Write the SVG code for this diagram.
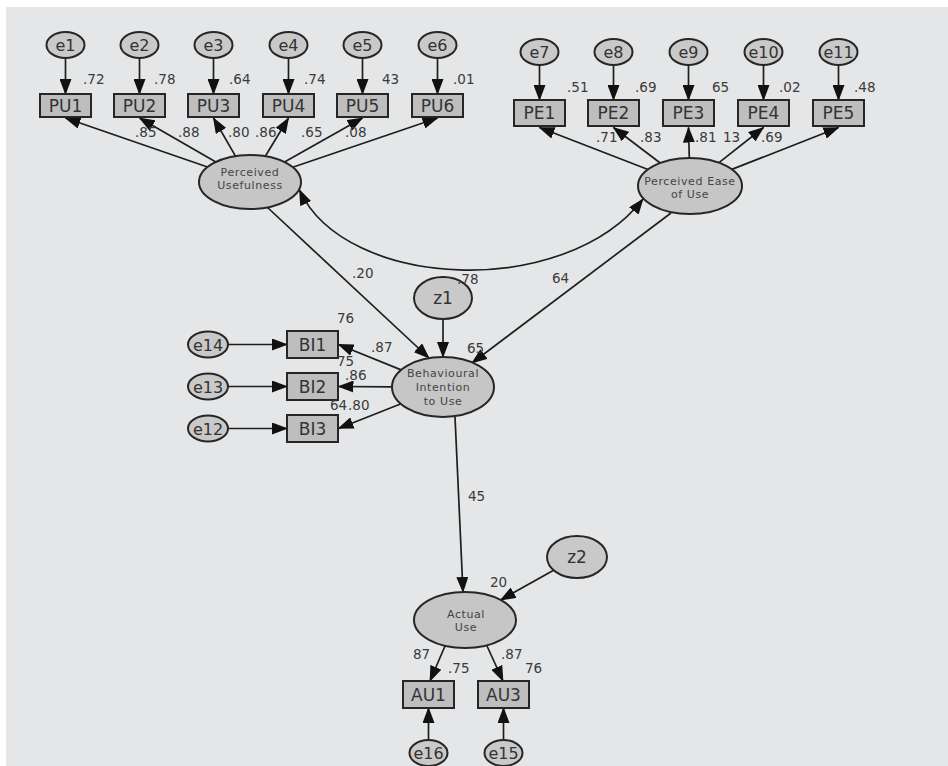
<svg xmlns="http://www.w3.org/2000/svg" width="948" height="766" viewBox="0 0 948 766">
<defs>
<style>
.bg{fill:#e5e6e7}
.lat{fill:#c6c6c6;stroke:#262626;stroke-width:2}
.err{fill:#c9c9c9;stroke:#262626;stroke-width:2}
.box{fill:#bebebe;stroke:#262626;stroke-width:2}
.ln{fill:none;stroke:#1e1e1e;stroke-width:1.7}
.a{marker-end:url(#ah)}
.ab{marker-start:url(#ah);marker-end:url(#ah)}
text{font-family:"DejaVu Sans","Liberation Sans",sans-serif;fill:#333}
.tl{font-size:17px;text-anchor:middle}
.te{font-size:16px;text-anchor:middle}
.tz{font-size:17px;text-anchor:middle}
.tv{font-size:11px;letter-spacing:0.6px;text-anchor:middle;fill:#444}
.n{font-size:13.5px;fill:#3a3a3a}
</style>
<marker id="ah" markerWidth="16" markerHeight="12" refX="15" refY="6" orient="auto-start-reverse" markerUnits="userSpaceOnUse">
<path d="M0,0 L16,6 L0,12 z" fill="#111"/>
</marker>
</defs>
<rect x="0" y="0" width="948" height="766" fill="#ffffff"/>
<rect class="bg" x="6" y="7" width="942" height="759"/>

<g id="connectors">
<line class="ln a" x1="65.5" y1="58" x2="65.5" y2="94"/>
<line class="ln a" x1="139.5" y1="58" x2="139.5" y2="94"/>
<line class="ln a" x1="213.5" y1="58" x2="213.5" y2="94"/>
<line class="ln a" x1="288.5" y1="58" x2="288.5" y2="94"/>
<line class="ln a" x1="362.5" y1="58" x2="362.5" y2="94"/>
<line class="ln a" x1="437.5" y1="58" x2="437.5" y2="94"/>
<line class="ln a" x1="207.5" y1="167" x2="65.5" y2="118"/>
<line class="ln a" x1="215.9" y1="161.9" x2="139.5" y2="118"/>
<line class="ln a" x1="235.5" y1="156.1" x2="213.5" y2="118"/>
<line class="ln a" x1="265.3" y1="156.2" x2="288.5" y2="118"/>
<line class="ln a" x1="284.5" y1="162.1" x2="362.5" y2="118"/>
<line class="ln a" x1="292.7" y1="167.2" x2="437.5" y2="118"/>
<line class="ln a" x1="539.5" y1="65" x2="539.5" y2="100"/>
<line class="ln a" x1="613.5" y1="65" x2="613.5" y2="100"/>
<line class="ln a" x1="688.5" y1="65" x2="688.5" y2="100"/>
<line class="ln a" x1="763.5" y1="65" x2="763.5" y2="100"/>
<line class="ln a" x1="838.5" y1="65" x2="838.5" y2="100"/>
<line class="ln a" x1="648" y1="169.5" x2="539.5" y2="127.5"/>
<line class="ln a" x1="660.2" y1="163" x2="613.5" y2="127.5"/>
<line class="ln a" x1="689.3" y1="158" x2="688.5" y2="127.5"/>
<line class="ln a" x1="719" y1="162.7" x2="763.5" y2="127.5"/>
<line class="ln a" x1="731.8" y1="169.4" x2="838.5" y2="127.5"/>
<path class="ln ab" d="M299.5,190 C345,290 565,300 643,199"/>
<line class="ln a" x1="267" y1="207" x2="429" y2="358"/>
<line class="ln a" x1="671" y1="213" x2="472" y2="363"/>
<line class="ln a" x1="443" y1="319" x2="443" y2="357"/>
<line class="ln a" x1="228" y1="344.5" x2="287" y2="344.5"/>
<line class="ln a" x1="228" y1="386.5" x2="287" y2="386.5"/>
<line class="ln a" x1="228" y1="428.5" x2="287" y2="428.5"/>
<line class="ln a" x1="401.1" y1="369.9" x2="338.5" y2="344.5"/>
<line class="ln a" x1="392" y1="386.8" x2="338.5" y2="386.5"/>
<line class="ln a" x1="401.1" y1="403.7" x2="338.5" y2="428.5"/>
<line class="ln a" x1="455" y1="417" x2="463" y2="592"/>
<line class="ln a" x1="553.6" y1="570.2" x2="500.6" y2="600"/>
<line class="ln a" x1="445" y1="646" x2="430" y2="681"/>
<line class="ln a" x1="487" y1="646" x2="503" y2="681"/>
<line class="ln a" x1="428.5" y1="740" x2="428.5" y2="708"/>
<line class="ln a" x1="503.5" y1="740" x2="503.5" y2="708"/>
</g>

<g id="e1"><ellipse class="err" cx="65.5" cy="45" rx="19" ry="13"/><text class="te" x="65.5" y="51">e1</text></g>
<g id="e2"><ellipse class="err" cx="139.5" cy="45" rx="19" ry="13"/><text class="te" x="139.5" y="51">e2</text></g>
<g id="e3"><ellipse class="err" cx="213.5" cy="45" rx="19" ry="13"/><text class="te" x="213.5" y="51">e3</text></g>
<g id="e4"><ellipse class="err" cx="288.5" cy="45" rx="19" ry="13"/><text class="te" x="288.5" y="51">e4</text></g>
<g id="e5"><ellipse class="err" cx="362.5" cy="45" rx="19" ry="13"/><text class="te" x="362.5" y="51">e5</text></g>
<g id="e6"><ellipse class="err" cx="437.5" cy="45" rx="19" ry="13"/><text class="te" x="437.5" y="51">e6</text></g>

<g id="PU1"><rect class="box" x="40" y="94" width="51" height="23"/><text class="tl" x="65.5" y="112">PU1</text></g>
<g id="PU2"><rect class="box" x="114" y="94" width="51" height="23"/><text class="tl" x="139.5" y="112">PU2</text></g>
<g id="PU3"><rect class="box" x="188" y="94" width="51" height="23"/><text class="tl" x="213.5" y="112">PU3</text></g>
<g id="PU4"><rect class="box" x="263" y="94" width="51" height="23"/><text class="tl" x="288.5" y="112">PU4</text></g>
<g id="PU5"><rect class="box" x="337" y="94" width="51" height="23"/><text class="tl" x="362.5" y="112">PU5</text></g>
<g id="PU6"><rect class="box" x="412" y="94" width="51" height="23"/><text class="tl" x="437.5" y="112">PU6</text></g>

<g id="e7"><ellipse class="err" cx="539.5" cy="52" rx="19" ry="13"/><text class="te" x="539.5" y="58">e7</text></g>
<g id="e8"><ellipse class="err" cx="613.5" cy="52" rx="19" ry="13"/><text class="te" x="613.5" y="58">e8</text></g>
<g id="e9"><ellipse class="err" cx="688.5" cy="52" rx="19" ry="13"/><text class="te" x="688.5" y="58">e9</text></g>
<g id="e10"><ellipse class="err" cx="763.5" cy="52" rx="19" ry="13"/><text class="te" x="763.5" y="58">e10</text></g>
<g id="e11"><ellipse class="err" cx="838.5" cy="52" rx="19" ry="13"/><text class="te" x="838.5" y="58">e11</text></g>

<g id="PE1"><rect class="box" x="514" y="100" width="51" height="26"/><text class="tl" x="539.5" y="119">PE1</text></g>
<g id="PE2"><rect class="box" x="588" y="100" width="51" height="26"/><text class="tl" x="613.5" y="119">PE2</text></g>
<g id="PE3"><rect class="box" x="663" y="100" width="51" height="26"/><text class="tl" x="688.5" y="119">PE3</text></g>
<g id="PE4"><rect class="box" x="738" y="100" width="51" height="26"/><text class="tl" x="763.5" y="119">PE4</text></g>
<g id="PE5"><rect class="box" x="813" y="100" width="51" height="26"/><text class="tl" x="838.5" y="119">PE5</text></g>

<g id="PerceivedUsefulness"><ellipse class="lat" cx="250" cy="182" rx="51" ry="27"/><text class="tv" x="250" y="176">Perceived</text><text class="tv" x="250" y="189">Usefulness</text></g>
<g id="PerceivedEaseOfUse"><ellipse class="lat" cx="690" cy="186" rx="52" ry="28"/><text class="tv" x="690" y="185">Perceived Ease</text><text class="tv" x="690" y="198">of Use</text></g>

<g id="z1"><ellipse class="err" cx="443" cy="298" rx="29" ry="21"/><text class="tz" x="443" y="304">z1</text></g>
<g id="BehaviouralIntention"><ellipse class="lat" cx="443" cy="387" rx="51" ry="30"/><text class="tv" x="443" y="377">Behavioural</text><text class="tv" x="443" y="391">Intention</text><text class="tv" x="443" y="405">to Use</text></g>

<g id="e14"><ellipse class="err" cx="208" cy="344.5" rx="20" ry="13"/><text class="te" x="208" y="350.5">e14</text></g>
<g id="e13"><ellipse class="err" cx="208" cy="386.5" rx="20" ry="13"/><text class="te" x="208" y="392.5">e13</text></g>
<g id="e12"><ellipse class="err" cx="208" cy="428.5" rx="20" ry="13"/><text class="te" x="208" y="434.5">e12</text></g>

<g id="BI1"><rect class="box" x="287" y="331" width="51" height="27"/><text class="tl" x="312.5" y="350.5">BI1</text></g>
<g id="BI2"><rect class="box" x="287" y="373" width="51" height="27"/><text class="tl" x="312.5" y="392.5">BI2</text></g>
<g id="BI3"><rect class="box" x="287" y="415" width="51" height="27"/><text class="tl" x="312.5" y="434.5">BI3</text></g>

<g id="z2"><ellipse class="err" cx="577" cy="557" rx="30" ry="21"/><text class="tz" x="577" y="563">z2</text></g>
<g id="ActualUse"><ellipse class="lat" cx="465" cy="620" rx="51" ry="28"/><text class="tv" x="466" y="618">Actual</text><text class="tv" x="466" y="631">Use</text></g>

<g id="AU1"><rect class="box" x="403" y="681" width="51" height="27"/><text class="tl" x="428.5" y="700.5">AU1</text></g>
<g id="AU3"><rect class="box" x="478" y="681" width="51" height="27"/><text class="tl" x="503.5" y="700.5">AU3</text></g>

<g id="e16"><ellipse class="err" cx="428.5" cy="753" rx="19" ry="13"/><text class="te" x="428.5" y="759">e16</text></g>
<g id="e15"><ellipse class="err" cx="503.5" cy="753" rx="19" ry="13"/><text class="te" x="503.5" y="759">e15</text></g>

<g id="estimates">
<text class="n" x="83" y="84">.72</text>
<text class="n" x="154" y="84">.78</text>
<text class="n" x="229" y="84">.64</text>
<text class="n" x="304" y="84">.74</text>
<text class="n" x="382" y="84">43</text>
<text class="n" x="453" y="84">.01</text>
<text class="n" x="135" y="137">.85</text>
<text class="n" x="178" y="137">.88</text>
<text class="n" x="228" y="137">.80</text>
<text class="n" x="255" y="137">.86</text>
<text class="n" x="301" y="137">.65</text>
<text class="n" x="345" y="137">.08</text>
<text class="n" x="567" y="92">.51</text>
<text class="n" x="635" y="92">.69</text>
<text class="n" x="712" y="92">65</text>
<text class="n" x="779" y="92">.02</text>
<text class="n" x="854" y="92">.48</text>
<text class="n" x="596" y="142">.71</text>
<text class="n" x="640" y="142">.83</text>
<text class="n" x="695" y="142">.81</text>
<text class="n" x="723" y="142">13</text>
<text class="n" x="761" y="142">.69</text>
<text class="n" x="352" y="278">.20</text>
<text class="n" x="457" y="284">.78</text>
<text class="n" x="552" y="283">64</text>
<text class="n" x="337" y="323">76</text>
<text class="n" x="371" y="352">.87</text>
<text class="n" x="337" y="366">75</text>
<text class="n" x="345" y="380">.86</text>
<text class="n" x="330" y="410">64</text>
<text class="n" x="348" y="410">.80</text>
<text class="n" x="467" y="353">65</text>
<text class="n" x="468" y="501">45</text>
<text class="n" x="490" y="587">20</text>
<text class="n" x="413" y="659">87</text>
<text class="n" x="448" y="673">.75</text>
<text class="n" x="501" y="659">.87</text>
<text class="n" x="525" y="673">76</text>
</g>
</svg>
